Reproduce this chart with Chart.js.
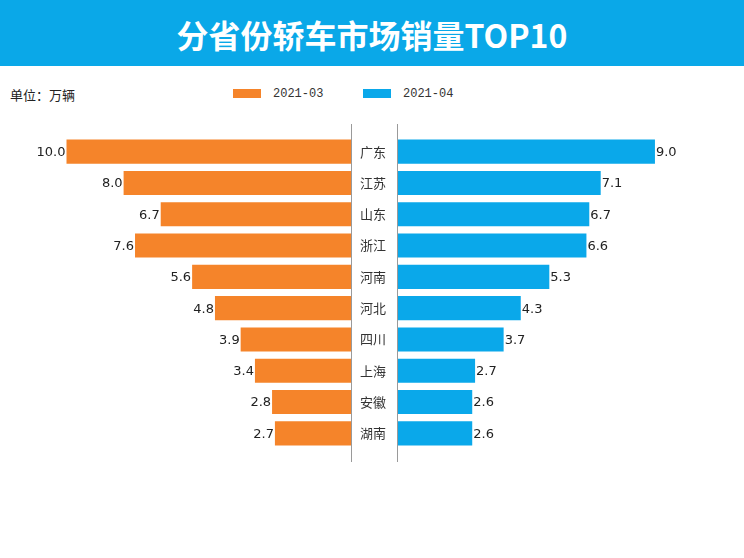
<!DOCTYPE html>
<html lang="zh">
<head>
  <meta charset="UTF-8">
  <title>分省份轿车市场销量TOP10</title>
  <script src="https://cdn.jsdelivr.net/npm/chart.js"></script>
  <style>
    body { margin: 0; background: #fff; width: 744px; height: 558px; position: relative; overflow: hidden; }
    .banner { position: absolute; left: 0; top: 0; width: 744px; height: 66px; background: #0aa8e8;
      color: #fff; font: bold 32px "Noto Sans CJK SC", sans-serif; text-align: center; line-height: 68px; }
    .unit { position: absolute; left: 10px; top: 85px; font: 13px "Noto Sans CJK SC", sans-serif; color: #222; }
    .legend { position: absolute; top: 86px; font: 12px "Liberation Mono", monospace; color: #333; line-height: 17px; }
    .legend span.box { display: inline-block; width: 28px; height: 9px; vertical-align: -1px; margin-right: 12px; }
    #leftWrap { position: absolute; left: 0; top: 124px; width: 352px; height: 338px; }
    #rightWrap { position: absolute; left: 351px; top: 124px; width: 393px; height: 338px; }
  </style>
</head>
<body>

  <div class="banner">分省份轿车市场销量TOP10</div>
  <div class="unit">单位：万辆</div>
  <div class="legend" style="left:233px"><span class="box" style="background:#f5842a"></span>2021-03</div>
  <div class="legend" style="left:363px"><span class="box" style="background:#0aa8ea"></span>2021-04</div>

  <div id="leftWrap"><canvas id="leftChart"></canvas></div>
  <div id="rightWrap"><canvas id="rightChart"></canvas></div>

  <script>
    // data
    const provinces = ['广东', '江苏', '山东', '浙江', '河南', '河北', '四川', '上海', '安徽', '湖南'];
    const march = [10.0, 8.0, 6.7, 7.6, 5.6, 4.8, 3.9, 3.4, 2.8, 2.7];
    const april = [9.0, 7.1, 6.7, 6.6, 5.3, 4.3, 3.7, 2.7, 2.6, 2.6];

    Chart.defaults.font.family = '"Noto Sans CJK SC", sans-serif';

    // value labels at bar ends + the gray divider line
    const barLabels = {
      id: 'barLabels',
      afterDatasetsDraw(chart, args, opts) {
        const ctx = chart.ctx;
        const area = chart.chartArea;
        const meta = chart.getDatasetMeta(0);
        const vals = chart.data.datasets[0].data;
        ctx.save();
        ctx.font = '13px "DejaVu Sans"';
        ctx.fillStyle = '#222';
        ctx.textBaseline = 'middle';
        ctx.textAlign = opts.side === 'left' ? 'right' : 'left';
        meta.data.forEach((bar, i) => {
          const x = opts.side === 'left' ? bar.x - 1 : bar.x + 1;
          ctx.fillText(vals[i].toFixed(1), x, bar.y + 1);
        });
        // divider
        const lx = opts.side === 'left' ? area.right - 0.5 : area.left - 0.5;
        ctx.strokeStyle = '#9a9a9a';
        ctx.lineWidth = 1;
        ctx.beginPath();
        ctx.moveTo(lx, area.top - 12);
        ctx.lineTo(lx, area.bottom + 13);
        ctx.stroke();
        ctx.restore();
      }
    };

    function makeChart(id, data, color, side, max) {
      return new Chart(document.getElementById(id), {
        type: 'bar',
        data: {
          labels: provinces,
          datasets: [{
            data,
            backgroundColor: color,
            barPercentage: 0.77,
            categoryPercentage: 1
          }]
        },
        options: {
          indexAxis: 'y',
          responsive: true,
          maintainAspectRatio: false,
          animation: false,
          layout: { padding: { top: 12, bottom: 13, left: 0, right: 0 } },
          scales: {
            x: { display: false, min: 0, max, reverse: side === 'left' },
            y: side === 'left'
              ? { display: false }
              : {
                  // tick marks hidden, their length just spaces the labels off the bars
                  grid: { display: false, drawTicks: true, tickLength: 12 },
                  border: { display: false },
                  ticks: { color: '#333', font: { size: 13 }, padding: 0 },
                  afterFit(scale) { scale.width = 47; }
                }
          },
          plugins: {
            legend: { display: false },
            tooltip: { enabled: false },
            barLabels: { side }
          }
        },
        plugins: [barLabels]
      });
    }

    makeChart('leftChart', march, '#f5842a', 'left', 352 / 28.55);
    makeChart('rightChart', april, '#0aa8ea', 'right', 346 / 28.55);
  </script>

</body>
</html>
